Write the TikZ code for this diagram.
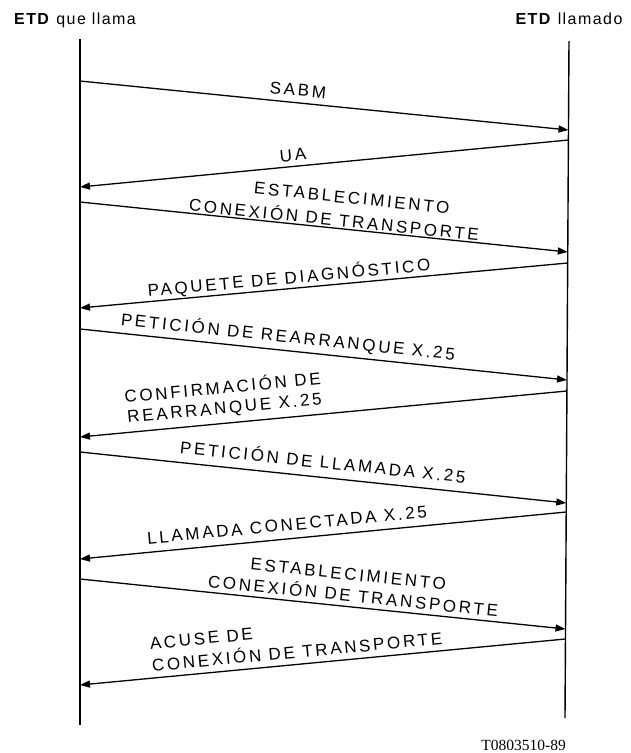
\documentclass[tikz,border=0pt]{standalone}
\usepackage{fontspec}
\setmainfont{Liberation Sans}
\newfontfamily\lblfont[LetterSpace=16]{Liberation Sans}
\newfontfamily\headfont[LetterSpace=9]{Liberation Sans}
\newfontfamily\codefont{Liberation Serif}
\usetikzlibrary{arrows.meta}
\begin{document}
\begin{tikzpicture}[x=1pt,y=-1pt,
  lifeline/.style={line width=1.4pt},
  msg/.style={line width=1.3pt,-{Triangle[length=10pt,width=7pt]}},
  lbl/.style={font=\lblfont\fontsize{17}{21}\selectfont, inner sep=0pt},
  head/.style={font=\headfont\fontsize{16}{19}\selectfont, inner sep=0pt, anchor=base},
]
\useasboundingbox (0,0) rectangle (630,753);
% headers
\node[head] (h1) at (75,24) {\textbf{ETD} que llama};
\node[head] (h2) at (569,24) {\textbf{ETD} llamado};
% lifelines
\coordinate (Ltop) at (80,39);
\coordinate (Lbot) at (80,725);
\coordinate (Rtop) at (569,41);
\coordinate (Rbot) at (565,718);
\draw[lifeline] (Ltop) -- (Lbot);
\draw[lifeline] (Rtop) -- (Rbot);
% message end points
\coordinate (a1) at (80,81);    \coordinate (b1) at (568.5,130);
\coordinate (b2) at (568.4,140); \coordinate (a2) at (80,187);
\coordinate (a3) at (80,202);   \coordinate (b3) at (567.8,252);
\coordinate (b4) at (567.7,263); \coordinate (a4) at (80,308);
\coordinate (a5) at (80,329);   \coordinate (b5) at (567,380);
\coordinate (b6) at (566.9,391); \coordinate (a6) at (80,437);
\coordinate (a7) at (80,452);   \coordinate (b7) at (566.3,503);
\coordinate (b8) at (566.2,512); \coordinate (a8) at (80,559);
\coordinate (a9) at (80,579);   \coordinate (b9) at (565.5,629);
\coordinate (b10) at (565.4,639); \coordinate (a10) at (80,685);
\draw[msg] (a1) -- (b1);
\draw[msg] (b2) -- (a2);
\draw[msg] (a3) -- (b3);
\draw[msg] (b4) -- (a4);
\draw[msg] (a5) -- (b5);
\draw[msg] (b6) -- (a6);
\draw[msg] (a7) -- (b7);
\draw[msg] (b8) -- (a8);
\draw[msg] (a9) -- (b9);
\draw[msg] (b10) -- (a10);
% labels
\node[lbl,rotate=-5.73] (l1) at (298,90) {SABM};
\node[lbl,rotate=5.50] (l2) at (293,155) {UA};
\node[lbl,rotate=-5.85,align=center] (l3) at (335.2,208.2)
  {\hspace*{31pt}ESTABLECIMIENTO\\[2.7pt]CONEXIÓN DE TRANSPORTE};
\node[lbl,rotate=5.27] (l4) at (289,278) {PAQUETE DE DIAGNÓSTICO};
\node[lbl,rotate=-5.97] (l5) at (288,337) {PETICIÓN DE REARRANQUE X.25};
\node[lbl,rotate=5.38,align=center] (l6) at (223.5,398)
  {CONFIRMACIÓN DE\\[-0.8pt]REARRANQUE X.25};
\node[lbl,rotate=-5.97] (l7) at (323,461) {PETICIÓN DE LLAMADA X.25};
\node[lbl,rotate=5.50] (l8) at (287,525) {LLAMADA CONECTADA X.25};
\node[lbl,rotate=-5.85,align=center] (l9) at (354.1,585.4)
  {ESTABLECIMIENTO\rule{14pt}{0pt}\\[0.4pt]CONEXIÓN DE TRANSPORTE};
\node[lbl,rotate=5.38,align=left] (l10) at (296,641)
  {ACUSE DE\\[1.2pt]CONEXIÓN DE TRANSPORTE};
% figure code
\node[inner sep=0pt,anchor=base east,font=\codefont\fontsize{15.5}{17}\selectfont] (code) at (566,750) {T0803510-89};
\end{tikzpicture}
\end{document}
